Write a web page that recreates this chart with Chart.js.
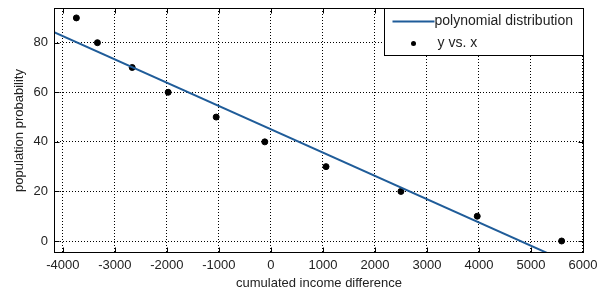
<!DOCTYPE html>
<html>
<head>
<meta charset="utf-8">
<script src="https://cdn.jsdelivr.net/npm/chart.js@4/dist/chart.umd.min.js"></script>
<style>
  html, body { margin: 0; padding: 0; background: #fff; }
  #wrap { width: 601px; height: 293px; }
</style>
</head>
<body>
<div id="wrap"><canvas id="chartFit" width="601" height="293"></canvas></div>
<script>
// scatter points
const xValues = [-3740, -3335, -2667, -1975, -1052, -117, 1060, 2500, 3967, 5590];
const yValues = [90, 80, 70, 60, 50, 40, 30, 20, 10, 0];
// fitted line end points (clipped by the axis)
const fitX = [-4170, 6020];
const fitY = [84.3, -11.5];
const xTicks = [-4000, -3000, -2000, -1000, 0, 1000, 2000, 3000, 4000, 5000, 6000];
const yTicks = [0, 20, 40, 60, 80];
const seriesNames = ["polynomial distribution", "y vs. x"];

const FONT = "'Liberation Sans', Arial, sans-serif";
const lineColor = "#1f5c99";

// box, inward ticks and legend drawn like the original figure
const frameAndLegend = {
    id: "frameAndLegend",
    afterDraw(chart) {
    const ctx = chart.ctx;
    const a = chart.chartArea;
    const xs = chart.scales.x, ys = chart.scales.y;
    const L = Math.round(a.left) + 0.5, R = Math.round(a.right) - 0.5;
    const T = Math.round(a.top) + 0.5, B = Math.round(a.bottom) - 0.5;
    ctx.save();
    ctx.strokeStyle = "#000";
    ctx.lineWidth = 1;
    ctx.strokeRect(L, T, R - L, B - T);
    ctx.beginPath();
    xTicks.forEach(v => {
        const p = Math.round(xs.getPixelForValue(v)) + 0.5;
        ctx.moveTo(p, B); ctx.lineTo(p, B - 5);
        ctx.moveTo(p, T); ctx.lineTo(p, T + 5);
    });
    yTicks.forEach(v => {
        const p = Math.round(ys.getPixelForValue(v)) + 0.5;
        ctx.moveTo(L, p); ctx.lineTo(L + 5, p);
        ctx.moveTo(R, p); ctx.lineTo(R - 5, p);
    });
    ctx.stroke();

    // legend box
    const w = 199, h = 47;
    const bx = R - w, by = T;
    ctx.fillStyle = "#fff";
    ctx.fillRect(bx, by, w, h);
    ctx.strokeRect(bx, by, w, h);
    ctx.font = "14px " + FONT;
    ctx.textBaseline = "middle";
    ctx.fillStyle = "#222";
    // line entry
    ctx.strokeStyle = lineColor;
    ctx.lineWidth = 2;
    ctx.beginPath();
    ctx.moveTo(bx + 8, by + 13);
    ctx.lineTo(bx + 50, by + 13);
    ctx.stroke();
    ctx.fillText(seriesNames[0], bx + 50, by + 13);
    // marker entry
    ctx.fillStyle = "#000";
    ctx.beginPath();
    ctx.arc(bx + 29, by + 35, 2.5, 0, Math.PI * 2);
    ctx.fill();
    ctx.fillStyle = "#222";
    ctx.fillText(seriesNames[1], bx + 53, by + 35);
    ctx.restore();
    },
};

const chartFit = new Chart("chartFit", {
    type: "scatter",
    data: {
    datasets: [
        {
        label: seriesNames[0],
        data: fitX.map((x, i) => ({ x: x, y: fitY[i] })),
        showLine: true,
        borderColor: lineColor,
        borderWidth: 2,
        pointRadius: 0,
        },
        {
        label: seriesNames[1],
        data: xValues.map((x, i) => ({ x: x, y: yValues[i] })),
        showLine: false,
        backgroundColor: "#000",
        borderColor: "#000",
        pointRadius: 3,
        },
    ],
    },
    options: {
    responsive: false,
    animation: false,
    devicePixelRatio: 1,
    layout: { padding: { top: 8, right: 17, left: 0, bottom: 0 } },
    plugins: {
        legend: { display: false },
        tooltip: { enabled: false },
    },
    scales: {
        x: {
        type: "linear",
        min: -4170,
        max: 6020,
        afterBuildTicks: s => { s.ticks = xTicks.map(v => ({ value: v })); },
        afterFit: s => { s.height = 40; s.paddingLeft = 0; s.paddingRight = 0; },
        grid: { color: "#000", lineWidth: 1, drawTicks: false },
        border: { display: false, dash: [1, 2] },
        ticks: {
            color: "#222",
            padding: 5,
            maxRotation: 0,
            autoSkip: false,
            callback: v => String(v),
            font: { family: FONT, size: 13 },
        },
        title: {
            display: true,
            text: "cumulated income difference",
            color: "#222",
            padding: { top: 0, bottom: 2 },
            font: { family: FONT, size: 13 },
        },
        },
        y: {
        type: "linear",
        min: -4.84,
        max: 94,
        afterBuildTicks: s => { s.ticks = yTicks.map(v => ({ value: v })); },
        afterFit: s => { s.width = 54; s.paddingTop = 0; s.paddingBottom = 0; },
        grid: { color: "#000", lineWidth: 1, drawTicks: false },
        border: { display: false, dash: [1, 2] },
        ticks: {
            color: "#222",
            padding: 6,
            callback: v => String(v),
            font: { family: FONT, size: 13 },
        },
        title: {
            display: true,
            text: "population probability",
            color: "#222",
            padding: { top: 12, bottom: 0 },
            font: { family: FONT, size: 13 },
        },
        },
    },
    },
    plugins: [frameAndLegend],
});
</script>
</body>
</html>
